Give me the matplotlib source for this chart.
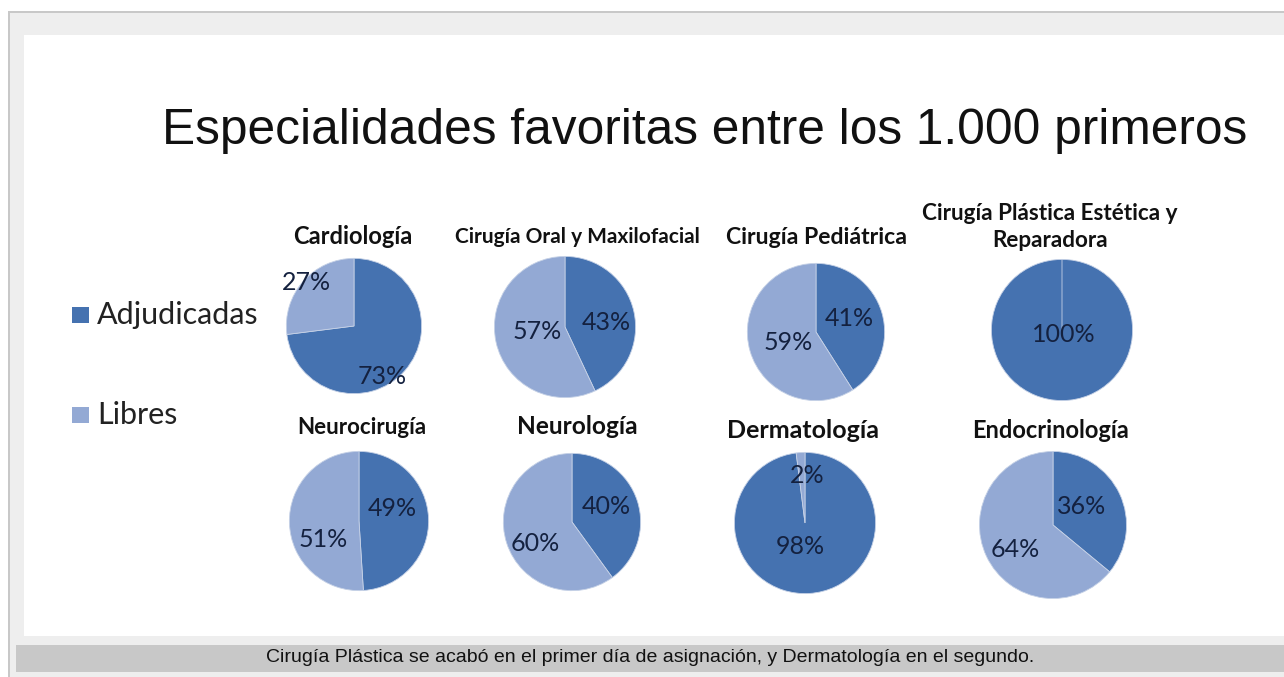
import matplotlib
matplotlib.use("Agg")
import matplotlib.pyplot as plt
from matplotlib.patches import Rectangle

W, H = 1284, 677

# data
specialties = ["Cardiología", "Cirugía Oral y Maxilofacial", "Cirugía Pediátrica",
               "Cirugía Plástica Estética y\nReparadora",
               "Neurocirugía", "Neurología", "Dermatología", "Endocrinología"]
adjudicadas = [73, 43, 41, 100, 49, 40, 98, 36]
libres = [27, 57, 59, 0, 51, 60, 2, 64]
series_names = ["Adjudicadas", "Libres"]

title = "Especialidades favoritas entre los 1.000 primeros"
caption = "Cirugía Plástica se acabó en el primer día de asignación, y Dermatología en el segundo."

dark = "#4572b0"
light = "#93a9d4"
label_color = "#14213f"

# layout (pixels): pie center x, center y, radius
pie_pos = [(354, 326, 69), (565, 327, 72), (816, 332, 70), (1062, 330, 72),
           (359, 521, 71), (572, 522, 70), (805, 523, 72), (1053, 525, 75)]
title_pos = [(353, 237, 17), (577, 237, 15), (817, 237, 16.6), (1050, 227, 16.2),
             (362, 427, 16), (577, 427, 17.6), (803, 431, 18), (1050, 431, 17)]
# label offsets in pie radius units (adjudicadas, libres)
label_off = [[(0.42, -0.75), (-0.71, 0.64)],
             [(0.58, 0.07), (-0.39, -0.07)],
             [(0.49, 0.2), (-0.4, -0.16)],
             [(0.03, -0.07), None],
             [(0.48, 0.18), (-0.51, -0.27)],
             [(0.5, 0.23), (-0.53, -0.31)],
             [(-0.07, -0.33), (0.03, 0.67)],
             [(0.39, 0.25), (-0.51, -0.33)]]

fig = plt.figure(figsize=(W / 100, H / 100), dpi=100)
bg = fig.add_axes([0, 0, 1, 1])
bg.set_xlim(0, W)
bg.set_ylim(H, 0)
bg.axis("off")

# frame
bg.add_patch(Rectangle((10, 13), W - 10, H - 13, color="#eeeeee", lw=0))
bg.add_patch(Rectangle((8, 11), W - 8, 2, color="#c8c8c8", lw=0))
bg.add_patch(Rectangle((8, 11), 2, H - 11, color="#c8c8c8", lw=0))
bg.add_patch(Rectangle((24, 35), W - 24, 601, color="white", lw=0))
bg.add_patch(Rectangle((16, 645), W - 16, 27, color="#c8c8c8", lw=0))

bg.text(705, 131, title, fontsize=35.7, family="Liberation Sans",
        ha="center", va="center", color="#111111")
bg.text(650, 658, caption, fontsize=14, family="Liberation Sans",
        ha="center", va="center", color="#111111")

# legend
for i, (name, col) in enumerate(zip(series_names, [dark, light])):
    y = 315 + i * 100
    bg.add_patch(Rectangle((72, y - 8), 17, 16, color=col, lw=0))
    bg.text(97, y, name, fontsize=22, family="Lato", ha="left", va="center",
            color="#222222")

for k, name in enumerate(specialties):
    cx, cy, r = pie_pos[k]
    ax = fig.add_axes([(cx - r) / W, 1 - (cy + r) / H, 2 * r / W, 2 * r / H])
    vals = [adjudicadas[k], libres[k]]
    ax.pie(vals, colors=[dark, light], startangle=90, counterclock=False,
           radius=1, wedgeprops=dict(edgecolor="#c5d1e6", linewidth=0.6))
    ax.set_xlim(-1.02, 1.02)
    ax.set_ylim(-1.02, 1.02)
    ax.set_aspect("equal")
    ax.axis("off")
    for v, off in zip(vals, label_off[k]):
        if off is None or v == 0:
            continue
        ax.text(off[0], off[1], f"{v}%", fontsize=18, family="Lato",
                ha="center", va="center", color=label_color)
    tx, ty, fs = title_pos[k]
    bg.text(tx, ty, name, fontsize=fs, family="Lato", fontweight="bold",
            ha="center", va="center", color="#111111", linespacing=1.3)

fig.savefig("out.png", dpi=100)
